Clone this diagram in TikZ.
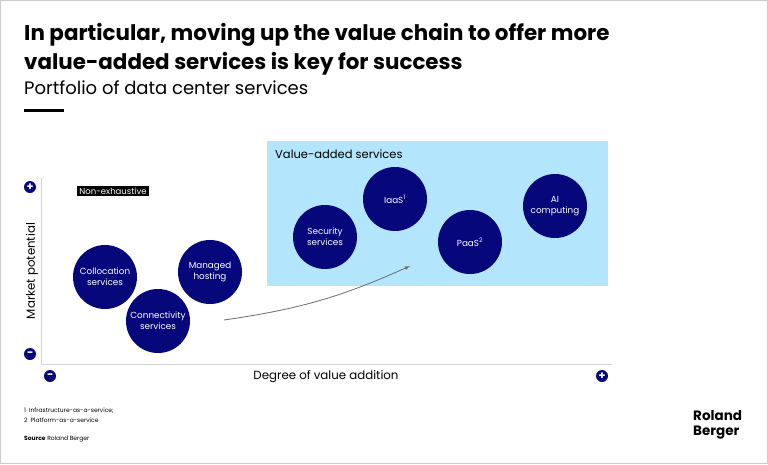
\documentclass[tikz,border=0pt]{standalone}
\usepackage{fontspec}
\setmainfont{Poppins}
\begin{document}
\begin{tikzpicture}[x=1pt,y=-1pt,
  bub/.style={circle,fill=navy,minimum size=64pt,inner sep=0pt,text=white,font=\fontsize{8.8}{11}\selectfont,align=center},
  ico/.style={circle,fill=navy,minimum size=12pt,inner sep=0pt,text=white,font=\bfseries\fontsize{11}{11}\selectfont}]
\definecolor{navy}{HTML}{06077A}
\definecolor{lblue}{HTML}{B3E5FC}
\useasboundingbox (0,0) rectangle (768,464);
\draw[gray!40] (0.5,0.5) rectangle (767.5,463.5);
\node[anchor=base west,inner sep=0,font=\bfseries\fontsize{21.4}{24}\selectfont] (t1) at (24,40) {In particular, moving up the value chain to offer more};
\node[anchor=base west,inner sep=0,font=\bfseries\fontsize{21.4}{24}\selectfont] (t2) at (24,69) {value-added services is key for success};
\node[anchor=base west,inner sep=0,font=\fontsize{18}{20}\selectfont] (t3) at (24,94) {Portfolio of data center services};
\fill (24,109) rectangle (64,112);
\fill[lblue] (267,141) rectangle (608,286);
\node[anchor=base west,inner sep=0,font=\fontsize{11.5}{13}\selectfont] (va) at (275,158) {Value-added services};
\draw[gray!35] (41,178) -- (41,364) -- (612,364);
\node[ico] (p1) at (30,187) {+};
\node[ico] (m1) at (30,354) {\textminus};
\node[ico] (m2) at (50,376) {\textminus};
\node[ico] (p2) at (602,376) {+};
\node[fill=black,text=white,font=\fontsize{8.5}{10}\selectfont,inner sep=2pt] (ne) at (113,191) {Non-exhaustive};
\node[rotate=90,font=\fontsize{11.8}{13}\selectfont] (mp) at (32,271) {Market potential};
\node[font=\fontsize{11.8}{13}\selectfont] (dv) at (326,377) {Degree of value addition};
\node[bub] (c1) at (105,277) {Collocation\\services};
\node[bub] (c2) at (158,321) {Connectivity\\services};
\node[bub] (c3) at (210,272) {Managed\\hosting};
\node[bub] (c4) at (325,237) {Security\\services};
\node[bub] (c5) at (395,199) {IaaS\textsuperscript{1}};
\node[bub] (c6) at (470,242) {PaaS\textsuperscript{2}};
\node[bub] (c7) at (555,206) {AI\\computing};
\coordinate (a1) at (224,320);
\coordinate (a2) at (410,266);
\draw[gray!85!black,thick,-latex] (a1) to[bend right=8] (a2);
\node[anchor=base west,inner sep=0,font=\fontsize{6}{8}\selectfont] (f1) at (24,412) {1\enspace Infrastructure-as-a-service;};
\node[anchor=base west,inner sep=0,font=\fontsize{6}{8}\selectfont] (f2) at (24,422) {2\enspace Platform-as-a-service};
\node[anchor=base west,inner sep=0,font=\fontsize{6}{8}\selectfont] (f3) at (24,440) {\textbf{Source} Roland Berger};
\node[anchor=north west,inner sep=0,align=left,font=\bfseries\fontsize{13.5}{15}\selectfont] (rb) at (693,410) {Roland\\Berger};
\end{tikzpicture}
\end{document}
